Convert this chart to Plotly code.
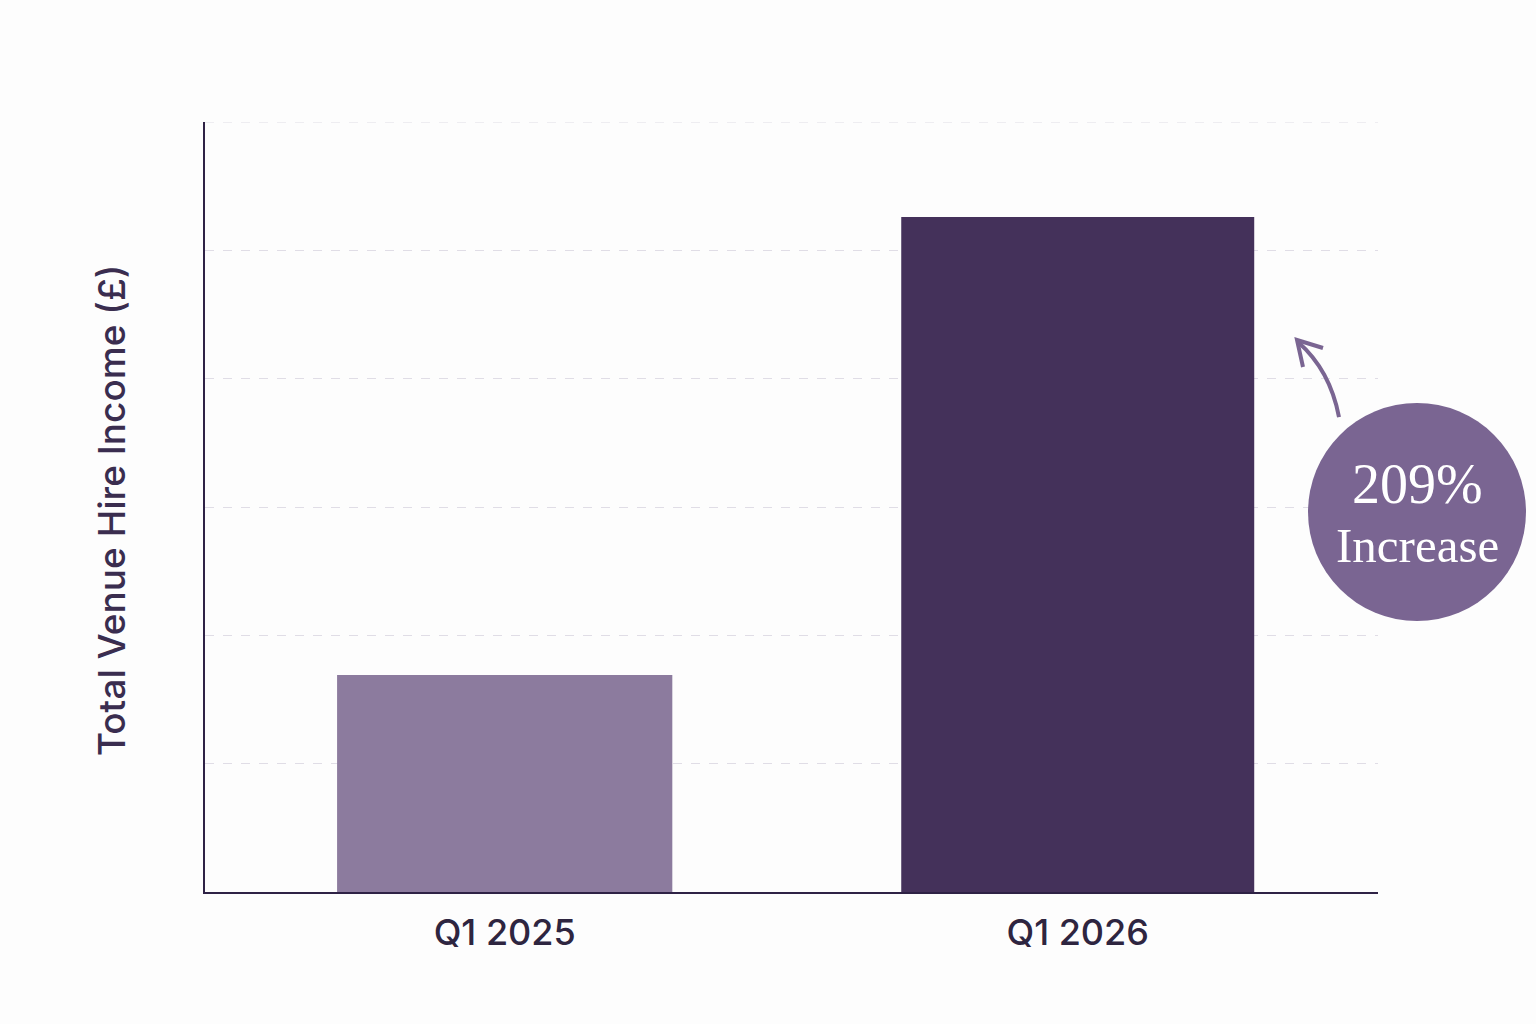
import plotly.graph_objects as go

categories = ["Q1 2025", "Q1 2026"]
values = [1.69, 5.26]
bar_colors = ["#8c7b9e", "#44315a"]
bar_widths = [0.585, 0.616]
y_title = "Total Venue Hire Income (£)"
badge_lines = ["209%", "Increase"]
y_max = 6

W, H = 1536, 1024
L, R, T, B = 205, 158, 122, 132
pw, ph = W - L - R, H - T - B

def px(x):
    return (x - L) / pw

def py(y):
    return (H - B - y) / ph

fig = go.Figure()
fig.add_trace(go.Bar(
    x=categories, y=values, width=bar_widths,
    marker=dict(color=bar_colors, line=dict(width=0)),
    hoverinfo="skip",
))

grid_color = "#e0dde6"
fig.update_layout(
    width=W, height=H,
    margin=dict(l=L, r=R, t=T, b=B),
    paper_bgcolor="#fdfdfd", plot_bgcolor="#fdfdfd",
    showlegend=False,
    font=dict(family="Inter, Open Sans, sans-serif", color="#2e2540"),
    xaxis=dict(
        type="category", range=[-0.523, 1.524],
        showline=True, linecolor="#2e2245", linewidth=2,
        showgrid=False, ticks="",
        tickfont=dict(size=36, color="#2e2540", weight=500),
        ticklabelstandoff=8,
    ),
    yaxis=dict(
        range=[0, y_max], dtick=1,
        showline=True, linecolor="#2e2245", linewidth=2,
        showgrid=True, gridcolor=grid_color, gridwidth=1, griddash="dash",
        showticklabels=False, ticks="", zeroline=False,
    ),
)

# top gridline (plotly omits the grid line at the range edge)
fig.add_shape(
    type="line", xref="paper", yref="y", x0=0, x1=1, y0=y_max, y1=y_max,
    line=dict(color=grid_color, width=1, dash="dash"), layer="below",
)

fig.add_annotation(
    text=y_title, xref="paper", yref="paper",
    x=px(111), y=py(511), xanchor="center", yanchor="middle",
    textangle=-90, showarrow=False,
    font=dict(size=37, color="#3a2d4f", family="Inter, Open Sans, sans-serif", weight=500),
)

# badge circle
cx, cy, r = 1417, 512, 109
fig.add_shape(
    type="circle", xref="paper", yref="paper",
    x0=px(cx - r), x1=px(cx + r), y0=py(cy + r), y1=py(cy - r),
    fillcolor="#7a6592", line=dict(width=0), layer="above",
)
fig.add_annotation(
    text=badge_lines[0], xref="paper", yref="paper",
    x=px(cx), y=py(484), xanchor="center", yanchor="middle", showarrow=False,
    font=dict(size=56, color="white", family="Liberation Serif, DejaVu Serif, serif"),
)
fig.add_annotation(
    text=badge_lines[1], xref="paper", yref="paper",
    x=px(cx), y=py(545), xanchor="center", yanchor="middle", showarrow=False,
    font=dict(size=49, color="white", family="Liberation Serif, DejaVu Serif, serif"),
)

# curved arrow
def P(x, y):
    return f"{px(x):.5f},{py(y):.5f}"

fig.add_shape(
    type="path", xref="paper", yref="paper",
    path=f"M {P(1339, 417)} Q {P(1330, 370)} {P(1298, 342)}",
    line=dict(color="#7a6592", width=4), layer="above",
)
fig.add_shape(
    type="path", xref="paper", yref="paper",
    path=f"M {P(1303, 367)} L {P(1297, 340)} L {P(1323, 348)}",
    line=dict(color="#7a6592", width=4), layer="above",
)

fig.write_html("out.html")
